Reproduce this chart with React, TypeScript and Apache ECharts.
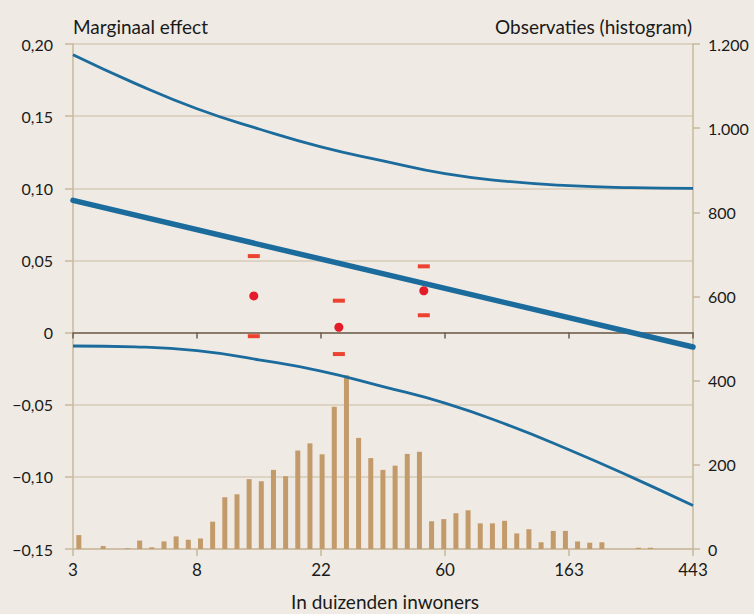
import React, { useEffect, useRef } from "react";
import * as echarts from "echarts";

// x axis is in ln-units measured from the first tick (3 thousand inwoners)
const xTickLabels = ["3", "8", "22", "60", "163", "443"];

// Confidence band (upper / lower) sampled along the x axis
const ciX = [0, 0.5, 1, 1.5, 2, 2.5, 3, 3.5, 4, 4.5, 5];
const upperCI = [0.1925, 0.1727, 0.1551, 0.1411, 0.1287, 0.119, 0.1101, 0.1048, 0.1018, 0.1004, 0.0999];
const lowerCI = [-0.0093, -0.0099, -0.0125, -0.0189, -0.0267, -0.0374, -0.0489, -0.0638, -0.0812, -0.1, -0.1199];

// Main marginal effect line
const mainX = [0, 5];
const mainEffect = [0.0916, -0.01];

// Histogram of observations
const histBinStart = 0.047;
const histBinWidth = 0.0981;
const histCounts = [
  33, 0, 7, 0, 2, 20, 4, 18, 30, 22,
  25, 65, 123, 130, 166, 161, 188, 173, 234, 251,
  225, 338, 413, 264, 216, 188, 198, 226, 231, 66,
  71, 85, 92, 61, 61, 67, 37, 47, 16, 43,
  43, 18, 15, 16, 0, 0, 3, 3,
];

// Point estimates with interval
const pointX = [1.458, 2.144, 2.829];
const pointEst = [0.0254, 0.0037, 0.029];
const pointLow = [-0.0025, -0.0149, 0.012];
const pointHigh = [0.053, 0.0221, 0.0459];

const FONT = "Lato";
const TAN = "#c9b99d";
const GRID = "#d6cbb7";
const BLUE = "#1c6b9d";

export default function App() {
  const ref = useRef<HTMLDivElement>(null);

  useEffect(() => {
    if (!ref.current) return;
    const chart = echarts.init(ref.current, undefined, { renderer: "svg" });

    const leftFmt = (v: number) => {
      if (Math.abs(v) < 1e-9) return "0";
      const s = Math.abs(v).toFixed(2).replace(".", ",");
      return v < 0 ? "\u2212" + s : s;
    };
    const rightFmt = (v: number) =>
      v >= 1000 ? `${Math.floor(v / 1000)}.${String(v % 1000).padStart(3, "0")}` : String(v);

    const histData = histCounts.map((c, i) => [histBinStart + histBinWidth * i, c]);

    const option: any = {
      animation: false,
      backgroundColor: "#efebe4",
      textStyle: { fontFamily: FONT },
      grid: { left: 73, right: 61, top: 44, bottom: 65, containLabel: false },
      xAxis: [
        {
          type: "value",
          min: 0,
          max: 5,
          interval: 1,
          position: "bottom",
          axisLine: { show: true, onZero: false, lineStyle: { color: TAN, width: 1.5 } },
          axisTick: { show: true, length: 7, lineStyle: { color: TAN, width: 1.5 } },
          axisLabel: {
            show: true,
            margin: 12,
            color: "#1a1a1a",
            fontSize: 17,
            fontFamily: FONT,
            formatter: (v: number) => xTickLabels[Math.round(v)] ?? "",
          },
          splitLine: { show: false },
        },
        {
          type: "value",
          min: 0,
          max: 5,
          interval: 1,
          position: "bottom",
          axisLine: { show: true, onZero: true, onZeroAxisIndex: 0, lineStyle: { color: "#6e5e4e", width: 1.5 } },
          axisTick: { show: true, length: 6, lineStyle: { color: "#6e5e4e", width: 1.5 } },
          axisLabel: { show: false },
          splitLine: { show: false },
        },
      ],
      yAxis: [
        {
          type: "value",
          min: -0.15,
          max: 0.2,
          interval: 0.05,
          position: "left",
          axisLine: { show: true, onZero: false, lineStyle: { color: TAN, width: 1.5 } },
          axisTick: { show: true, length: 8, lineStyle: { color: TAN, width: 1.5 } },
          axisLabel: {
            margin: 20,
            color: "#1a1a1a",
            fontSize: 16,
            fontFamily: FONT,
            formatter: leftFmt,
          },
          splitLine: { show: true, lineStyle: { color: GRID, width: 1.5 } },
        },
        {
          type: "value",
          min: 0,
          max: 1200,
          interval: 200,
          position: "right",
          axisLine: { show: true, onZero: false, lineStyle: { color: TAN, width: 1.5 } },
          axisTick: { show: true, length: 7, lineStyle: { color: TAN, width: 1.5 } },
          axisLabel: {
            margin: 15,
            color: "#1a1a1a",
            fontSize: 16,
            fontFamily: FONT,
            formatter: rightFmt,
          },
          splitLine: { show: false },
        },
      ],
      series: [
        {
          name: "Observaties",
          type: "bar",
          xAxisIndex: 0,
          yAxisIndex: 1,
          barWidth: 5,
          data: histData,
          itemStyle: { color: "#c39a6a" },
          z: 2,
        },
        {
          name: "Bovengrens",
          type: "line",
          xAxisIndex: 0,
          yAxisIndex: 0,
          smooth: true,
          showSymbol: false,
          data: ciX.map((x, i) => [x, upperCI[i]]),
          lineStyle: { color: BLUE, width: 2.8 },
          z: 3,
        },
        {
          name: "Ondergrens",
          type: "line",
          xAxisIndex: 0,
          yAxisIndex: 0,
          smooth: true,
          showSymbol: false,
          data: ciX.map((x, i) => [x, lowerCI[i]]),
          lineStyle: { color: BLUE, width: 2.8 },
          z: 3,
        },
        {
          name: "Marginaal effect",
          type: "line",
          xAxisIndex: 0,
          yAxisIndex: 0,
          showSymbol: false,
          data: mainX.map((x, i) => [x, mainEffect[i]]),
          lineStyle: { color: BLUE, width: 5.5, cap: "round" },
          z: 4,
        },
        {
          name: "Interval",
          type: "scatter",
          xAxisIndex: 0,
          yAxisIndex: 0,
          symbol: "rect",
          symbolSize: [12, 4],
          data: [
            ...pointX.map((x, i) => [x, pointLow[i]]),
            ...pointX.map((x, i) => [x, pointHigh[i]]),
          ],
          itemStyle: { color: "#ec4230", opacity: 1 },
          z: 5,
        },
        {
          name: "Schatting",
          type: "scatter",
          xAxisIndex: 0,
          yAxisIndex: 0,
          symbol: "circle",
          symbolSize: 9,
          data: pointX.map((x, i) => [x, pointEst[i]]),
          itemStyle: { color: "#e41b28", opacity: 1 },
          z: 6,
        },
      ],
      graphic: [
        {
          type: "text",
          x: 73,
          y: 26,
          style: {
            text: "Marginaal effect",
            fill: "#1a1a1a",
            font: `19px ${FONT}`,
            textAlign: "left",
            textVerticalAlign: "middle",
          },
        },
        {
          type: "text",
          x: 692,
          y: 26,
          style: {
            text: "Observaties (histogram)",
            fill: "#1a1a1a",
            font: `19px ${FONT}`,
            textAlign: "right",
            textVerticalAlign: "middle",
          },
        },
        {
          type: "text",
          x: 385,
          y: 601,
          style: {
            text: "In duizenden inwoners",
            fill: "#1a1a1a",
            font: `19px ${FONT}`,
            textAlign: "center",
            textVerticalAlign: "middle",
          },
        },
      ],
    };

    chart.setOption(option);
    return () => chart.dispose();
  }, []);

  return (
    <div
      ref={ref}
      style={{ position: "absolute", left: 0, top: 0, width: 754, height: 614, background: "#efebe4" }}
    />
  );
}
